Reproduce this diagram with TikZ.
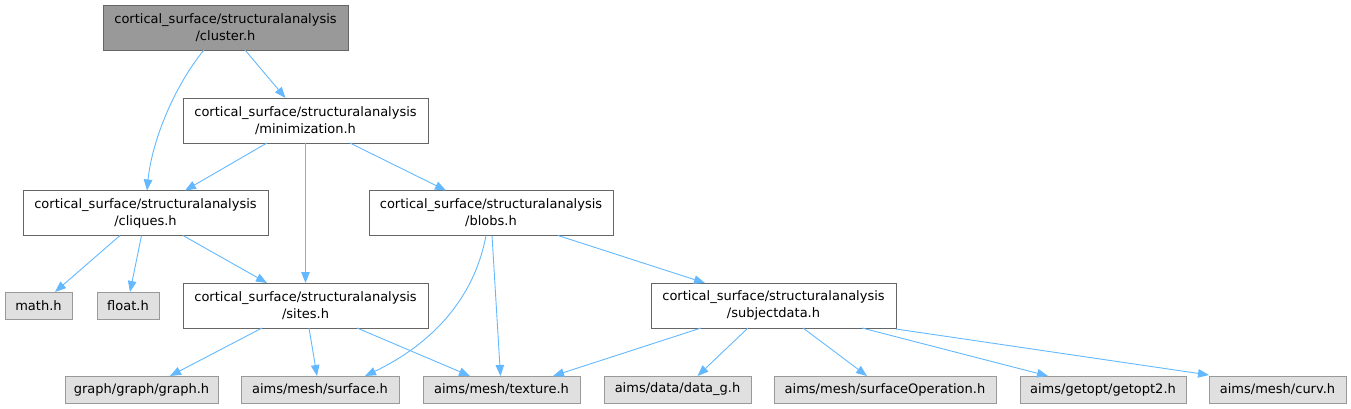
\documentclass[tikz,border=0pt]{standalone}
\usepackage{fontspec}
\setmainfont{DejaVu Sans}
\usetikzlibrary{arrows.meta}
\definecolor{edgecol}{HTML}{63B8FF}
\definecolor{leaffill}{HTML}{E0E0E0}
\definecolor{leafdraw}{HTML}{999999}
\definecolor{rootfill}{HTML}{999999}
\definecolor{boxdraw}{HTML}{666666}
\begin{document}
\begin{tikzpicture}[x=1pt,y=-1pt,
  every node/.style={inner sep=0pt,outer sep=0pt,font=\fontsize{13}{17}\selectfont,align=center},
  bigbox/.style={draw=boxdraw,fill=white,line width=0.9pt,minimum width=245pt,minimum height=45pt},
  rootbox/.style={bigbox,fill=rootfill},
  leafbox/.style={draw=leafdraw,fill=leaffill,line width=0.9pt,minimum height=27pt},
  edge/.style={draw=edgecol,line width=0.9pt,-{Triangle[length=11pt,width=8.5pt]}}]
\useasboundingbox (0,0) rectangle (1351,409);
% level nodes
\node[rootbox] (cluster) at (225.5,27.5) {cortical\_surface/structuralanalysis\\/cluster.h};
\node[bigbox] (minim) at (305.5,120.5) {cortical\_surface/structuralanalysis\\/minimization.h};
\node[bigbox] (cliques) at (145.5,213) {cortical\_surface/structuralanalysis\\/cliques.h};
\node[bigbox,minimum width=244pt] (blobs) at (491,213) {cortical\_surface/structuralanalysis\\/blobs.h};
\node[bigbox] (sites) at (305.5,305.5) {cortical\_surface/structuralanalysis\\/sites.h};
\node[bigbox] (subj) at (773.5,305.5) {cortical\_surface/structuralanalysis\\/subjectdata.h};
% leaves
\node[leafbox,minimum width=67pt] (math) at (38.5,305.5) {math.h};
\node[leafbox,minimum width=62pt] (float) at (128,305.5) {float.h};
\node[leafbox,minimum width=153pt] (graph) at (141.5,389.5) {graph/graph/graph.h};
\node[leafbox,minimum width=158pt] (surface) at (320,389.5) {aims/mesh/surface.h};
\node[leafbox,minimum width=157pt] (texture) at (501.5,389.5) {aims/mesh/texture.h};
\node[leafbox,minimum width=147pt] (datag) at (677.5,389.5) {aims/data/data\_g.h};
\node[leafbox,minimum width=222pt] (surfop) at (885,389.5) {aims/mesh/surfaceOperation.h};
\node[leafbox,minimum width=166pt] (getopt) at (1103,389.5) {aims/getopt/getopt2.h};
\node[leafbox,minimum width=137pt] (curv) at (1277.5,389.5) {aims/mesh/curv.h};
% edges
\draw[edge] ([xshift=19.5pt]cluster.south) -- ([xshift=-20pt]minim.north);
\draw[edge] ([xshift=-21.5pt]cluster.south) .. controls (175,85) and (152,140) .. ([xshift=1.5pt]cliques.north);
\draw[edge] ([xshift=-38.5pt]minim.south) -- ([xshift=39.5pt]cliques.north);
\draw[edge] (minim.south) -- (sites.north);
\draw[edge] ([xshift=44.5pt]minim.south) -- ([xshift=-45pt]blobs.north);
\draw[edge] ([xshift=-25.5pt]cliques.south) -- ([xshift=16.5pt]math.north);
\draw[edge] ([xshift=-4pt]cliques.south) -- ([xshift=2pt]float.north);
\draw[edge] ([xshift=37.5pt]cliques.south) -- ([xshift=-38.5pt]sites.north);
\draw[edge] ([xshift=-5pt]blobs.south) .. controls (474,300) and (430,345) .. ([xshift=45pt]surface.north);
\draw[edge] ([xshift=1pt]blobs.south) -- ([xshift=-1pt]texture.north);
\draw[edge] ([xshift=67pt]blobs.south) -- ([xshift=-68.5pt]subj.north);
\draw[edge] ([xshift=-43.5pt]sites.south) -- ([xshift=28.5pt]graph.north);
\draw[edge] ([xshift=3.5pt]sites.south) -- ([xshift=-3pt]surface.north);
\draw[edge] ([xshift=51.5pt]sites.south) -- ([xshift=-31.5pt]texture.north);
\draw[edge] ([xshift=-72.5pt]subj.south) -- ([xshift=51.5pt]texture.north);
\draw[edge] ([xshift=-25.5pt]subj.south) -- ([xshift=20pt]datag.north);
\draw[edge] ([xshift=29.5pt]subj.south) -- ([xshift=-18pt]surfop.north);
\draw[edge] ([xshift=88.5pt]subj.south) -- ([xshift=-55pt]getopt.north);
\draw[edge] ([yshift=-1pt]subj.south east) -- ([yshift=1pt]curv.north west);
\end{tikzpicture}
\end{document}
